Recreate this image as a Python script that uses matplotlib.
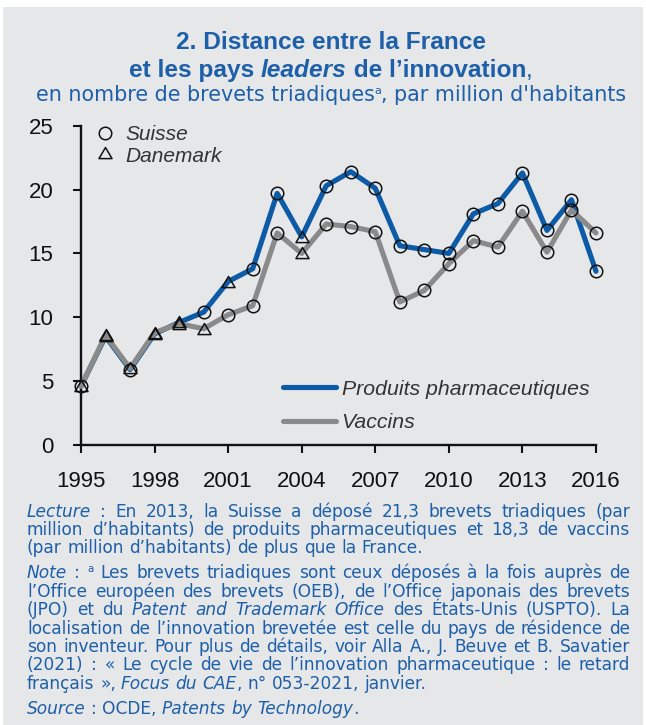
import matplotlib
matplotlib.use('Agg')
import matplotlib.pyplot as plt
from matplotlib.transforms import IdentityTransform
from matplotlib.lines import Line2D
from matplotlib.patches import Rectangle
from matplotlib.path import Path
from matplotlib import font_manager as fm

# ---------------- data ----------------
years = list(range(1995, 2017))
pharma = [4.6, 8.5, 5.9, 8.7, 9.6, 10.4, 12.8, 13.8, 19.7, 16.3, 20.3, 21.4,
          20.1, 15.6, 15.3, 15.0, 18.1, 18.9, 21.3, 16.8, 19.2, 13.6]
vaccins = [4.6, 8.6, 6.0, 8.8, 9.5, 9.1, 10.2, 10.9, 16.6, 15.0, 17.3, 17.1,
           16.7, 11.2, 12.1, 14.2, 16.0, 15.5, 18.3, 15.1, 18.4, 16.6]
# leader country for each year: S = Suisse, D = Danemark
pharma_leader = ['S', 'D', 'S', 'D', 'D', 'S', 'D', 'S', 'S', 'D', 'S', 'S',
                 'S', 'S', 'S', 'S', 'S', 'S', 'S', 'S', 'S', 'S']
vaccins_leader = ['D', 'D', 'D', 'D', 'D', 'D', 'S', 'S', 'S', 'D', 'S', 'S',
                  'S', 'S', 'S', 'S', 'S', 'S', 'S', 'S', 'S', 'S']
series_names = ['Produits pharmaceutiques', 'Vaccins']
country_names = ['Suisse', 'Danemark']
x_ticks = list(range(1995, 2017, 3))
y_ticks = [0, 5, 10, 15, 20, 25]

# ---------------- style ----------------
W, H = 646, 725
BG = '#e6e7e9'
BLUE_LINE = '#0d5ba6'
GREY_LINE = '#8a8a8a'
TXT_BLUE = '#1d5fa8'
DARK = '#333333'

avail = {f.name for f in fm.fontManager.ttflist}
BASE = 'Liberation Sans' if 'Liberation Sans' in avail else 'DejaVu Sans'
NARROW = 'Liberation Sans Narrow' if 'Liberation Sans Narrow' in avail else BASE
WIDE = 'DejaVu Sans'
plt.rcParams['font.family'] = [BASE, 'DejaVu Sans']

fig = plt.figure(figsize=(W / 100, H / 100), dpi=100)
fig.patch.set_facecolor('white')
fig.patches.append(Rectangle((3 / W, 0), (W - 6) / W, (H - 7) / H,
                             transform=fig.transFigure, facecolor=BG,
                             edgecolor='none', zorder=-10))

ax = fig.add_axes([81 / W, 1 - 445 / H, (596 - 81) / W, (445 - 125.7) / H])
ax.patch.set_visible(False)
ax.set_xlim(1995, 2016)
ax.set_ylim(0, 25)
for s in ['top', 'right']:
    ax.spines[s].set_visible(False)
for s in ['left', 'bottom']:
    ax.spines[s].set_linewidth(1.7)
    ax.spines[s].set_color('#111111')
ax.set_xticks(x_ticks)
ax.set_yticks(y_ticks)
ax.tick_params(axis='both', direction='out', length=5.8, width=1.5,
               colors='#111111', labelsize=16)
ax.tick_params(axis='x', pad=13)
ax.tick_params(axis='y', pad=14)

LW = 3.7
ax.plot(years, pharma, color=BLUE_LINE, lw=LW, solid_capstyle='round',
        solid_joinstyle='round', clip_on=False, zorder=3)
ax.plot(years, vaccins, color=GREY_LINE, lw=LW, solid_capstyle='round',
        solid_joinstyle='round', clip_on=False, zorder=4)

tri = Path([(-1, -0.78), (1, -0.78), (0, 0.92), (-1, -0.78)],
           [Path.MOVETO, Path.LINETO, Path.LINETO, Path.CLOSEPOLY])
MK = {'S': dict(marker='o', ms=9.0), 'D': dict(marker=tri, ms=9.4)}
for vals, leaders in [(pharma, pharma_leader), (vaccins, vaccins_leader)]:
    for code in ['S', 'D']:
        xs = [y for y, l in zip(years, leaders) if l == code]
        ys = [v for v, l in zip(vals, leaders) if l == code]
        ax.plot(xs, ys, ls='none', mfc='none', mec='#111111', mew=1.1,
                clip_on=False, zorder=6, **MK[code])

# ---------------- text helpers ----------------
R = fig.canvas.get_renderer()
T = IdentityTransform()


def twidth(s, props):
    t = fig.text(0, 0, s, transform=T, **props)
    w = t.get_window_extent(R).width
    t.remove()
    return w


def fit_size(s, props, target):
    return props['fontsize'] * target / twidth(s, props)


def put(x, ybase, s, props, dy=0):
    fig.text(x, H - ybase + dy, s, transform=T, ha='left', va='baseline', **props)


def draw_centered(cx, ybase, segs):
    widths = [twidth(s, p) for s, p, dy in segs]
    x = cx - sum(widths) / 2
    for (s, p, dy), w in zip(segs, widths):
        put(x, ybase, s, p, dy)
        x += w


# ---------------- titles ----------------
tb = dict(fontsize=16.5, fontweight='bold', color=TXT_BLUE, family=[NARROW, 'DejaVu Sans'])
tb['fontsize'] = min(18.0, fit_size('2. Distance entre la France', tb, 309))
tbi = dict(tb, fontstyle='italic')
tn = dict(tb, fontweight='normal')
draw_centered(331, 49, [('2. Distance entre la France', tb, 0)])
draw_centered(331, 77, [('et les pays ', tb, 0), ('leaders', tbi, 0),
                        (' de l’innovation', tb, 0), (',', tn, 0)])
st = dict(fontsize=14, color=TXT_BLUE, family=[WIDE])
st['fontsize'] = min(15.5, fit_size('en nombre de brevets triadiques, par million d\'habitants', st, 585))
sts = dict(st, fontsize=st['fontsize'] * 0.55)
draw_centered(331, 101, [('en nombre de brevets triadiques', st, 0), ('a', sts, 7),
                         (', par million d\'habitants', st, 0)])

# ---------------- legends ----------------
leg_t = dict(fontsize=15, fontstyle='italic', color=DARK)
fig.lines.append(Line2D([105], [H - 133], transform=T, ls='none', marker='o',
                        ms=9.0, mfc='none', mec='#111111', mew=1.1))
fig.lines.append(Line2D([105], [H - 153], transform=T, ls='none', marker=tri,
                        ms=9.4, mfc='none', mec='#111111', mew=1.1))
put(125, 140, country_names[0], leg_t)
put(125, 162.5, country_names[1], leg_t)

for yc, col, name, yb in [(387.3, BLUE_LINE, series_names[0], 395),
                          (420.7, GREY_LINE, series_names[1], 428)]:
    fig.lines.append(Line2D([283, 336], [H - yc, H - yc], transform=T, color=col,
                            lw=LW, solid_capstyle='round'))
    put(341.5, yb, name, dict(leg_t, fontsize=15.3))

# ---------------- footnotes ----------------
fbase = dict(fontsize=12, color=TXT_BLUE, family=[WIDE])
FN = min(12.5, fit_size('(par million d’habitants) de plus que la France.', fbase, 396))
fp = {False: dict(fbase, fontsize=FN),
      True: dict(fbase, fontsize=FN, fontstyle='italic')}


def parse_line(line, state):
    words = []
    for w in line.split(' '):
        segs, buf, i = [], '', 0
        while i < len(w):
            c = w[i]
            if c == '_':
                if buf:
                    segs.append((buf, state['it'], False))
                    buf = ''
                state['it'] = not state['it']
            elif c == '^':
                if buf:
                    segs.append((buf, state['it'], False))
                    buf = ''
                segs.append((w[i + 1], state['it'], True))
                i += 1
            else:
                buf += c
            i += 1
        if buf:
            segs.append((buf, state['it'], False))
        words.append(segs)
    return words


def seg_props(it, sup):
    p = dict(fp[it])
    if sup:
        p['fontsize'] = FN * 0.6
    return p


space_w = twidth('a a', fp[False]) - twidth('aa', fp[False])
X0, X1 = 27, 630


def draw_par(lines, ybase0, step):
    state = {'it': False}
    for k, (line, just) in enumerate(lines):
        words = parse_line(line, state)
        ww = []
        for segs in words:
            ww.append(sum(twidth(s, seg_props(it, sup)) for s, it, sup in segs))
        if just and len(words) > 1:
            gap = max(space_w * 0.6, (X1 - X0 - sum(ww)) / (len(words) - 1))
        else:
            gap = space_w
        x = X0
        yb = ybase0 + k * step
        for segs, w in zip(words, ww):
            for s, it, sup in segs:
                p = seg_props(it, sup)
                put(x, yb, s, p, 6 if sup else 0)
                x += twidth(s, p)
            x += gap


draw_par([('_Lecture_ : En 2013, la Suisse a déposé 21,3 brevets triadiques (par', True),
          ('million d’habitants) de produits pharmaceutiques et 18,3 de vaccins', True),
          ('(par million d’habitants) de plus que la France.', False)], 516.7, 18.3)
draw_par([('_Note_ : ^a Les brevets triadiques sont ceux déposés à la fois auprès de', True),
          ('l’Office européen des brevets (OEB), de l’Office japonais des brevets', True),
          ('(JPO) et du _Patent and Trademark Office_ des États-Unis (USPTO). La', True),
          ('localisation de l’innovation brevetée est celle du pays de résidence de', True),
          ('son inventeur. Pour plus de détails, voir Alla A., J. Beuve et B. Savatier', True),
          ('(2021) : « Le cycle de vie de l’innovation pharmaceutique : le retard', True),
          ('français », _Focus du CAE_, n° 053-2021, janvier.', False)], 578.5, 18.4)
draw_par([('_Source_ : OCDE, _Patents by Technology_.', False)], 714, 18.4)

fig.savefig('out.png', dpi=100, facecolor=fig.get_facecolor())
